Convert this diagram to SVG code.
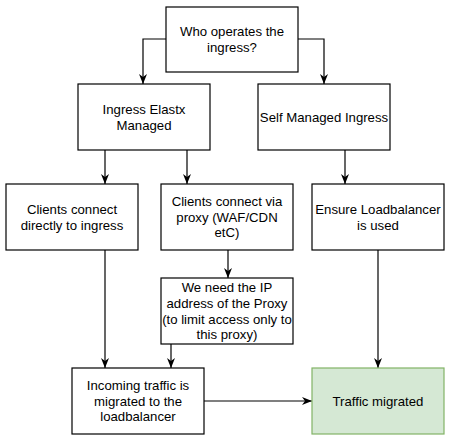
<svg xmlns="http://www.w3.org/2000/svg" width="454" height="443" viewBox="0 0 454 443">
<defs>
<style>
.box{fill:#ffffff;stroke:#000000;stroke-width:1.2}
.green{fill:#d5e8d4;stroke:#82b366;stroke-width:1.2}
.t{font-family:"Liberation Sans",Arial,sans-serif;font-size:13.2px;fill:#000000;text-anchor:middle}
.edge{fill:none;stroke:#000000;stroke-width:1.2}
</style>
<marker id="arr" markerUnits="userSpaceOnUse" viewBox="0 0 10 10" refX="10" refY="5" markerWidth="10" markerHeight="10" orient="auto">
<path d="M0,1 L10,5 L0,9 L3,5 Z" fill="#000000"/>
</marker>
</defs>
<rect width="454" height="443" fill="#ffffff"/>
<g id="edges">
<path class="edge" d="M166,39 H143 V84" marker-end="url(#arr)"/>
<path class="edge" d="M298,39 H324 V84" marker-end="url(#arr)"/>
<path class="edge" d="M105,150 V184" marker-end="url(#arr)"/>
<path class="edge" d="M187,150 V184" marker-end="url(#arr)"/>
<path class="edge" d="M345,150 V184" marker-end="url(#arr)"/>
<path class="edge" d="M228,250 V278" marker-end="url(#arr)"/>
<path class="edge" d="M105,250 V368" marker-end="url(#arr)"/>
<path class="edge" d="M171,344 V368" marker-end="url(#arr)"/>
<path class="edge" d="M378,250 V368" marker-end="url(#arr)"/>
<path class="edge" d="M204,401 H312" marker-end="url(#arr)"/>
</g>
<g id="who">
<rect class="box" x="166" y="7" width="132" height="65"/>
<text class="t" x="232" y="36.2">Who operates the</text>
<text class="t" x="232" y="52">ingress?</text>
</g>
<g id="elastx">
<rect class="box" x="78" y="84" width="132" height="66"/>
<text class="t" x="144" y="113.7">Ingress Elastx</text>
<text class="t" x="144" y="129.5">Managed</text>
</g>
<g id="self">
<rect class="box" x="258" y="84" width="132" height="66"/>
<text class="t" x="324" y="121.6">Self Managed Ingress</text>
</g>
<g id="direct">
<rect class="box" x="6" y="184" width="132" height="66"/>
<text class="t" x="72" y="213.7">Clients connect</text>
<text class="t" x="72" y="229.5">directly to ingress</text>
</g>
<g id="proxy">
<rect class="box" x="161" y="184" width="132" height="66"/>
<text class="t" x="227" y="205.8">Clients connect via</text>
<text class="t" x="227" y="221.6">proxy (WAF/CDN</text>
<text class="t" x="227" y="237.4">etC)</text>
</g>
<g id="ensure">
<rect class="box" x="312" y="184" width="132" height="66"/>
<text class="t" x="378" y="213.7">Ensure Loadbalancer</text>
<text class="t" x="378" y="229.5">is used</text>
</g>
<g id="ip">
<rect class="box" x="161" y="278" width="132" height="66"/>
<text class="t" x="227" y="291.8">We need the IP</text>
<text class="t" x="227" y="307.7">address of the Proxy</text>
<text class="t" x="227" y="323.5">(to limit access only to</text>
<text class="t" x="227" y="339.4">this proxy)</text>
</g>
<g id="incoming">
<rect class="box" x="72" y="368" width="132" height="66"/>
<text class="t" x="138" y="389.8">Incoming traffic is</text>
<text class="t" x="138" y="405.6">migrated to the</text>
<text class="t" x="138" y="421.4">loadbalancer</text>
</g>
<g id="migrated">
<rect class="green" x="312" y="368" width="132" height="66"/>
<text class="t" x="378" y="405.6">Traffic migrated</text>
</g>
</svg>
